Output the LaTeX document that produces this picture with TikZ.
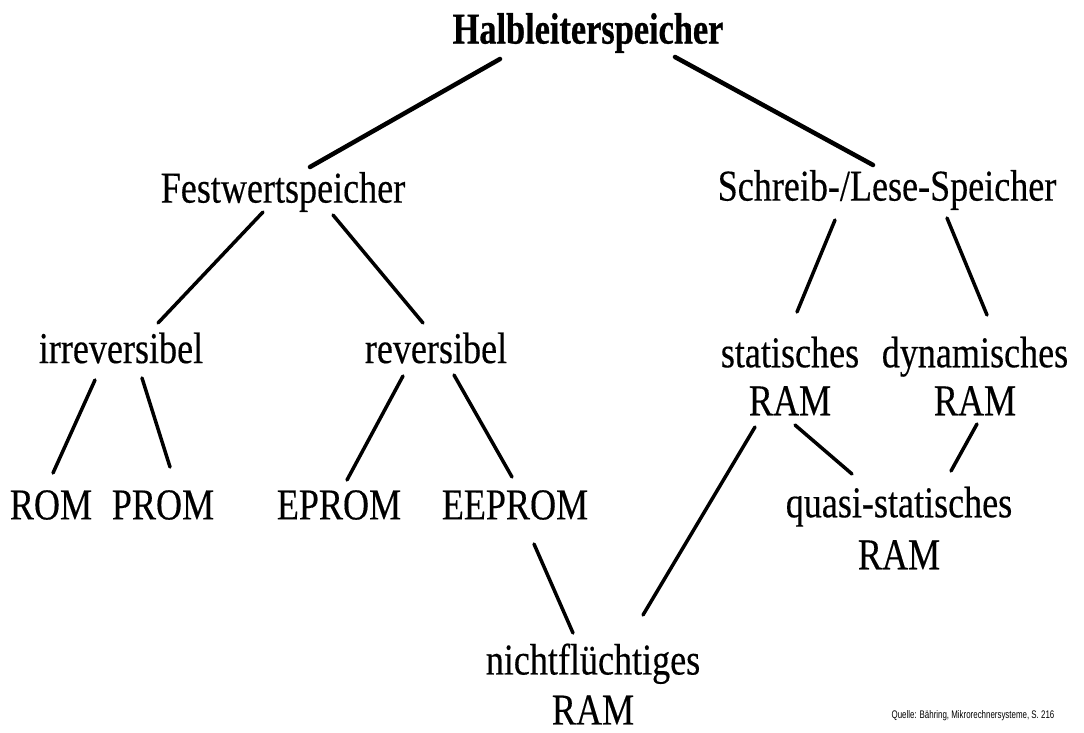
\documentclass[tikz,border=0pt]{standalone}
\usepackage{fontspec}
\setmainfont{Liberation Serif}
\newfontfamily\tmsfont[FakeStretch=0.82,FakeBold=0.3]{Liberation Serif}
\newfontfamily\tmsbfont[FakeStretch=0.78,FakeBold=0.6]{Liberation Serif Bold}
\newfontfamily\qfont[FakeStretch=0.72]{Liberation Sans}
\tikzset{
  lbl/.style={inner sep=0pt, outer sep=0pt, align=center,
    font=\tmsfont\fontsize{44}{48}\selectfont},
  ttl/.style={lbl, font=\tmsbfont\fontsize{44}{48}\selectfont},
  link/.style={line width=3.5pt, line cap=round},
  toplink/.style={line width=4.5pt, line cap=round},
}
\begin{document}
\begin{tikzpicture}[x=1pt,y=-1pt]
\fill[white] (0,0) rectangle (1084,733);
\useasboundingbox (0,0) rectangle (1084,733);
\node[ttl] (hal) at (588,33) {Halbleiterspeicher};
\node[lbl] (fest) at (283,192) {Festwertspeicher};
\node[lbl] (sls) at (887,190) {Schreib-/Lese-Speicher};
\node[lbl] (irr) at (121,348) {irreversibel};
\node[lbl] (rev) at (436,348) {reversibel};
\node[lbl] (stat) at (790,376) {statisches\\RAM};
\node[lbl] (dyn) at (975,376) {dynamisches\\RAM};
\node[lbl] (rom) at (51,505) {ROM};
\node[lbl] (prom) at (163,505) {PROM};
\node[lbl] (eprom) at (339,505) {EPROM};
\node[lbl] (eeprom) at (515,505) {EEPROM};
\node[lbl, font=\tmsfont\fontsize{44}{52}\selectfont] (quasi) at (899,528) {quasi-statisches\\RAM};
\node[lbl, font=\tmsfont\fontsize{44}{50}\selectfont] (nf) at (593,684) {nichtflüchtiges\\RAM};
\node[inner sep=0pt, font=\qfont\fontsize{11}{13}\selectfont] (src) at (973,716) {Quelle: Bähring, Mikrorechnersysteme, S. 216};

\draw[toplink] ([shift={(-88,26)}]hal.center) -- ([shift={(27,-25)}]fest.center);
\draw[toplink] ([shift={(87,24)}]hal.center) -- ([shift={(-14,-25)}]sls.center);
\draw[link] ([shift={(-20,20)}]fest.center) -- ([shift={(37,-25)}]irr.center);
\draw[link] ([shift={(50,23)}]fest.center) -- ([shift={(-13,-25)}]rev.center);
\draw[link] ([shift={(-52,30)}]sls.center) -- ([shift={(7,-64)}]stat.center);
\draw[link] ([shift={(60,28)}]sls.center) -- ([shift={(12,-61)}]dyn.center);
\draw[link] ([shift={(-26,32)}]irr.center) -- ([shift={(2,-32)}]rom.center);
\draw[link] ([shift={(21,30)}]irr.center) -- ([shift={(7,-38)}]prom.center);
\draw[link] ([shift={(-33,28)}]rev.center) -- ([shift={(8,-25)}]eprom.center);
\draw[link] ([shift={(18,27)}]rev.center) -- ([shift={(-3,-28)}]eeprom.center);
\draw[link] ([shift={(19,39)}]eeprom.center) -- ([shift={(-20,-51)}]nf.center);
\draw[link] ([shift={(-35,51)}]stat.center) -- ([shift={(50,-69)}]nf.center);
\draw[link] ([shift={(5,49)}]stat.center) -- ([shift={(-47,-54)}]quasi.center);
\draw[link] ([shift={(2,48)}]dyn.center) -- ([shift={(52,-57)}]quasi.center);
\end{tikzpicture}
\end{document}
